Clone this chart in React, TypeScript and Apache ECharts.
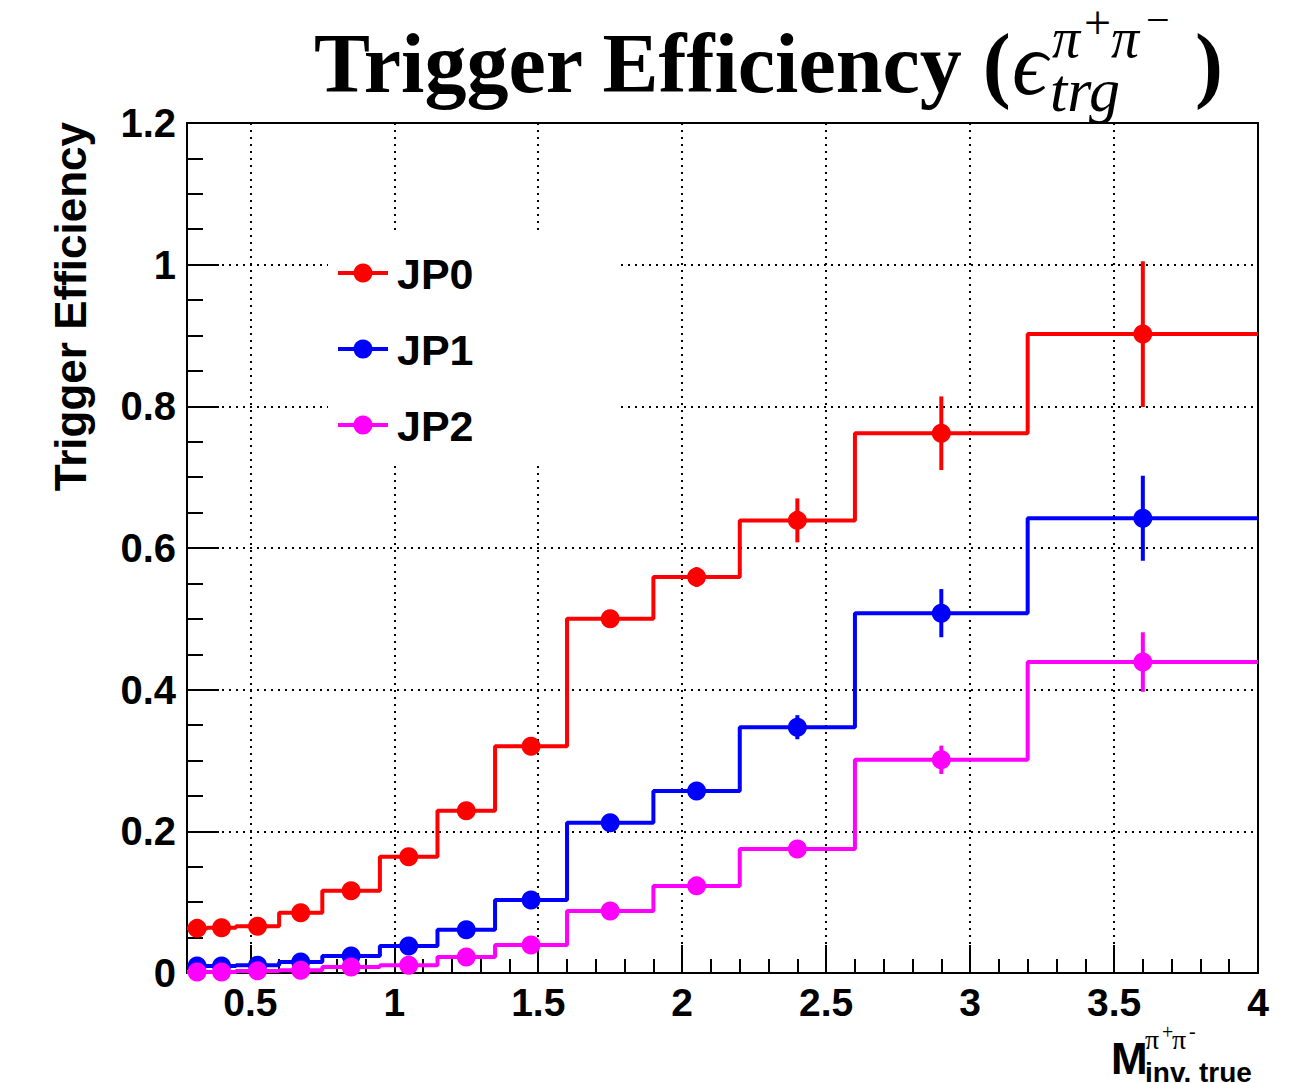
import React, { useEffect, useRef } from "react";
import * as echarts from "echarts";

// ---- data ----
const binEdges = [0.28, 0.35, 0.45, 0.6, 0.75, 0.95, 1.15, 1.35, 1.6, 1.9, 2.2, 2.6, 3.2, 4.0];
const seriesNames = ["JP0", "JP1", "JP2"];
const jp0 = [0.063, 0.064, 0.066, 0.085, 0.116, 0.164, 0.229, 0.32, 0.5, 0.559, 0.639, 0.762, 0.902];
const jp0Err = [0.002, 0.002, 0.003, 0.003, 0.004, 0.006, 0.008, 0.01, 0.01, 0.014, 0.031, 0.052, 0.103];
const jp1 = [0.01, 0.01, 0.011, 0.0155, 0.024, 0.038, 0.061, 0.103, 0.212, 0.257, 0.347, 0.508, 0.642];
const jp1Err = [0.001, 0.001, 0.002, 0.002, 0.003, 0.004, 0.006, 0.008, 0.009, 0.011, 0.017, 0.034, 0.06];
const jp2 = [0.0015, 0.0015, 0.003, 0.004, 0.0085, 0.011, 0.0226, 0.0395, 0.0875, 0.123, 0.175, 0.301, 0.439];
const jp2Err = [0.001, 0.001, 0.001, 0.001, 0.002, 0.003, 0.004, 0.005, 0.006, 0.008, 0.011, 0.02, 0.042];
const xMajorTicks = [0.5, 1, 1.5, 2, 2.5, 3, 3.5, 4];
const xMinorTicks = [0.3, 0.4, 0.6, 0.7, 0.8, 0.9, 1.1, 1.2, 1.3, 1.4, 1.6, 1.7, 1.8, 1.9, 2.1, 2.2, 2.3, 2.4, 2.6, 2.7, 2.8, 2.9, 3.1, 3.2, 3.3, 3.4, 3.6, 3.7, 3.8, 3.9];
const yMin = 0;
const yMax = 1.2;
const yInterval = 0.2;
const titleMain = "Trigger Efficiency (";
const yTitle = "Trigger Efficiency";

const colors = ["#ff0000", "#0000ff", "#ff00ff"];
const allValues = [jp0, jp1, jp2];
const allErrors = [jp0Err, jp1Err, jp2Err];

const SANS = "'Liberation Sans', Arial, Helvetica, sans-serif";
const SERIF = "'Liberation Serif', 'Times New Roman', 'DejaVu Serif', serif";

export default function App() {
  const ref = useRef<HTMLDivElement>(null);
  useEffect(() => {
    if (!ref.current) return;
    const chart = echarts.init(ref.current, null, { renderer: "svg" });
    const centers = binEdges.slice(0, -1).map((e, k) => (e + binEdges[k + 1]) / 2);
    const series: any[] = [];
    allValues.forEach((vals, i) => {
      const color = colors[i];
      const base = 10 + i * 3;
      const stepData = binEdges.slice(0, -1).map((e, k) => [e, vals[k]]);
      stepData.push([binEdges[binEdges.length - 1], vals[vals.length - 1]]);
      series.push({
        name: seriesNames[i],
        type: "line",
        step: "end",
        data: stepData,
        symbol: "none",
        lineStyle: { color, width: 4 },
        z: base,
        silent: true,
      });
      series.push({
        name: seriesNames[i] + " err",
        type: "custom",
        data: centers.map((c, k) => [c, vals[k], allErrors[i][k]]),
        encode: { x: 0, y: 1 },
        z: base + 1,
        renderItem: (params: any, api: any) => {
          const x = api.value(0);
          const y = api.value(1);
          const e = api.value(2);
          const p1 = api.coord([x, y - e]);
          const p2 = api.coord([x, y + e]);
          return {
            type: "line",
            shape: { x1: p1[0], y1: p1[1], x2: p2[0], y2: p2[1] },
            style: { stroke: color, lineWidth: 4 },
          };
        },
      });
      series.push({
        name: seriesNames[i] + " pts",
        type: "scatter",
        data: centers.map((c, k) => [c, vals[k]]),
        symbol: "circle",
        symbolSize: 19,
        itemStyle: { color, opacity: 1 },
        z: base + 2,
      });
    });

    const legendRows = [273, 349, 425];
    const legendEls: any[] = [
      { type: "rect", z: 1, shape: { x: 328, y: 232, width: 289, height: 230 }, style: { fill: "#ffffff" } },
    ];
    seriesNames.forEach((n, i) => {
      const y = legendRows[i];
      legendEls.push({ type: "line", z: 20, shape: { x1: 338, y1: y, x2: 388, y2: y }, style: { stroke: colors[i], lineWidth: 4 } });
      legendEls.push({ type: "circle", z: 21, shape: { cx: 363, cy: y, r: 9.5 }, style: { fill: colors[i] } });
      legendEls.push({
        type: "text", z: 21, x: 397, y: y + 1,
        style: { text: n, fontSize: 43, fontWeight: "bold", fontFamily: SANS, fill: "#000", align: "left", verticalAlign: "middle" },
      });
    });

    const titleEls: any[] = [
      { type: "text", z: 30, x: 314, y: 63, style: { text: titleMain, fontSize: 84, fontWeight: "bold", fontFamily: SERIF, fill: "#000", align: "left", verticalAlign: "middle" } },
      { type: "text", z: 30, x: 1012, y: 64, style: { text: "ϵ", fontSize: 88, fontStyle: "italic", fontFamily: SERIF, fill: "#000", align: "left", verticalAlign: "middle" } },
      { type: "text", z: 30, x: 1052, y: 38, style: { text: "π", fontSize: 56, fontStyle: "italic", fontFamily: SERIF, fill: "#000", align: "left", verticalAlign: "middle" } },
      { type: "text", z: 30, x: 1084, y: 22, style: { text: "+", fontSize: 48, fontFamily: SERIF, fill: "#000", align: "left", verticalAlign: "middle" } },
      { type: "text", z: 30, x: 1111, y: 38, style: { text: "π", fontSize: 56, fontStyle: "italic", fontFamily: SERIF, fill: "#000", align: "left", verticalAlign: "middle" } },
      { type: "text", z: 30, x: 1146, y: 20, style: { text: "−", fontSize: 42, fontFamily: SERIF, fill: "#000", align: "left", verticalAlign: "middle" } },
      { type: "text", z: 30, x: 1050, y: 90, style: { text: "trg", fontSize: 62, fontStyle: "italic", fontFamily: SERIF, fill: "#000", align: "left", verticalAlign: "middle" } },
      { type: "text", z: 30, x: 1195, y: 63, style: { text: ")", fontSize: 84, fontWeight: "bold", fontFamily: SERIF, fill: "#000", align: "left", verticalAlign: "middle" } },
      // y title
      { type: "text", z: 30, x: 70, y: 122, rotation: Math.PI / 2, style: { text: yTitle, fontSize: 44, fontWeight: "bold", fontFamily: SANS, fill: "#000", align: "right", verticalAlign: "middle" } },
      // x title
      { type: "text", z: 30, x: 1111, y: 1058, style: { text: "M", fontSize: 44, fontWeight: "bold", fontFamily: SANS, fill: "#000", align: "left", verticalAlign: "middle" } },
      { type: "text", z: 30, x: 1145, y: 1039, style: { text: "π", fontSize: 28, fontFamily: SERIF, fill: "#000", align: "left", verticalAlign: "middle" } },
      { type: "text", z: 30, x: 1162, y: 1032, style: { text: "+", fontSize: 20, fontFamily: SERIF, fill: "#000", align: "left", verticalAlign: "middle" } },
      { type: "text", z: 30, x: 1172, y: 1039, style: { text: "π", fontSize: 28, fontFamily: SERIF, fill: "#000", align: "left", verticalAlign: "middle" } },
      { type: "text", z: 30, x: 1189, y: 1031, style: { text: "-", fontSize: 20, fontFamily: SERIF, fill: "#000", align: "left", verticalAlign: "middle" } },
      { type: "text", z: 30, x: 1145, y: 1072, style: { text: "inv. true", fontSize: 28, fontWeight: "bold", fontFamily: SANS, fill: "#000", align: "left", verticalAlign: "middle" } },
    ];

    const dotted = { color: "#000", width: 2, type: [2, 5] as any };
    chart.setOption({
      animation: false,
      backgroundColor: "#ffffff",
      grid: { left: 187, right: 49, top: 123, bottom: 110, containLabel: false, show: true, borderColor: "#000", borderWidth: 2, backgroundColor: "transparent" },
      xAxis: [
        {
          type: "value", min: binEdges[0], max: binEdges[binEdges.length - 1], splitNumber: 7,
          axisLine: { show: true, lineStyle: { color: "#000", width: 2 } },
          axisTick: { show: true, inside: true, length: 28, customValues: xMajorTicks, lineStyle: { color: "#000", width: 2 } },
          axisLabel: { show: true, customValues: xMajorTicks, color: "#000", fontSize: 39, fontWeight: "bold", fontFamily: SANS, margin: 10 },
          splitLine: { show: true, lineStyle: dotted },
        },
        {
          type: "value", min: binEdges[0], max: binEdges[binEdges.length - 1], position: "bottom",
          axisLine: { show: false },
          axisTick: { show: true, inside: true, length: 14, customValues: xMinorTicks, lineStyle: { color: "#000", width: 2 } },
          axisLabel: { show: false },
          splitLine: { show: false },
        },
      ],
      yAxis: {
        type: "value", min: yMin, max: yMax, interval: yInterval,
        axisLine: { show: true, lineStyle: { color: "#000", width: 2 } },
        axisTick: { show: true, inside: true, length: 32, lineStyle: { color: "#000", width: 2 } },
        minorTick: { show: true, splitNumber: 4, length: 16, lineStyle: { color: "#000", width: 2 } },
        axisLabel: { color: "#000", fontSize: 40, fontWeight: "bold", fontFamily: SANS, margin: 11 },
        splitLine: { show: true, lineStyle: dotted },
      },
      graphic: { elements: [...legendEls, ...titleEls] },
      series,
    });
    return () => chart.dispose();
  }, []);
  return <div ref={ref} style={{ position: "fixed", left: 0, top: 0, width: 1307, height: 1083, background: "#fff" }} />;
}
